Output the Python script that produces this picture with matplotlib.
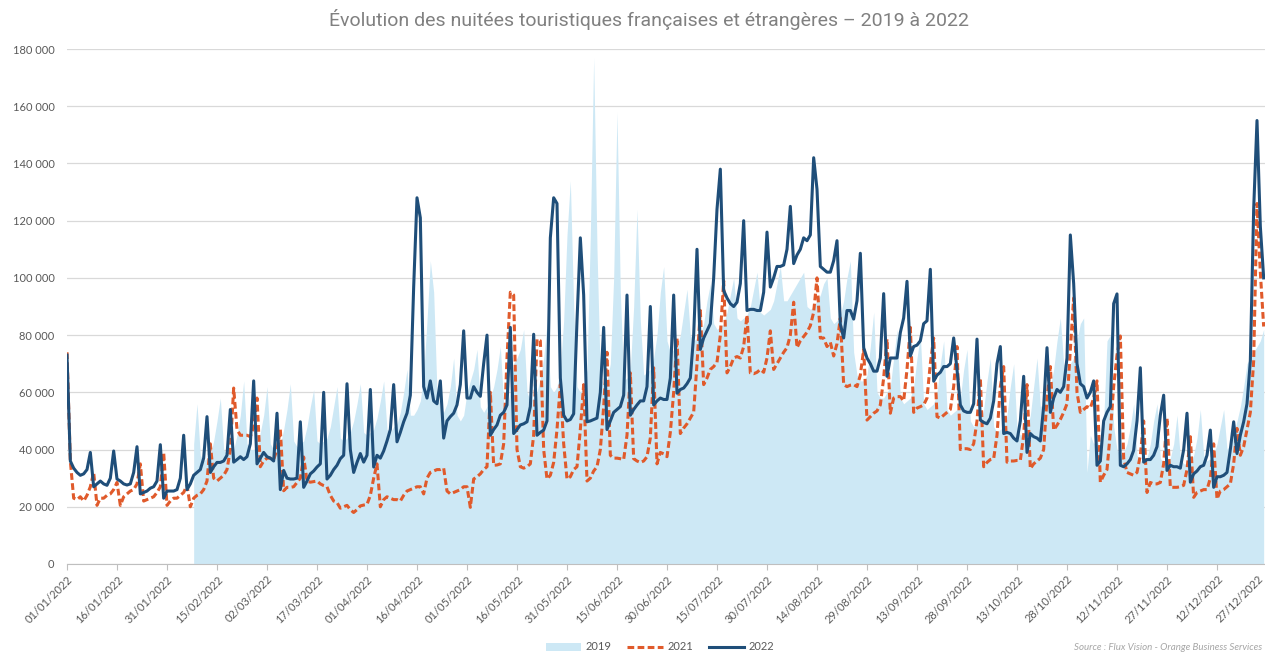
import matplotlib
matplotlib.use("Agg")
import matplotlib.pyplot as plt
import matplotlib.transforms as mtransforms
from matplotlib.patches import Patch
from matplotlib.lines import Line2D
from matplotlib.ticker import FuncFormatter
import numpy as np
import pandas as pd

# nuitées journalières en milliers, jour 0 = 01/01 (une ligne = une semaine)
nuits_2022 = [
    73, 36, 33.5, 32, 31, 31.5, 33,
    39, 27, 28, 29, 28, 27.5, 30,
    39.5, 29.7, 29, 28, 27.6, 28, 32,
    41, 24.5, 25, 25.5, 26.5, 27, 29,
    41.7, 23, 25.5, 25.5, 25.5, 26, 30,
    45, 26, 28, 31, 32, 33, 37,
    51.5, 32, 34, 35.5, 35.5, 36, 38,
    54, 35.6, 36.5, 37.5, 36.5, 37.5, 42,
    64, 35, 37, 39, 37.5, 37, 36,
    52.7, 26, 32.7, 30, 29.7, 29.7, 30,
    49.7, 26.8, 29, 31.5, 32.5, 33.9, 35,
    60, 29.7, 31, 33, 34.5, 36.8, 38,
    63, 40, 32, 35.5, 38.6, 35.6, 38,
    61, 33.9, 38, 37, 39.5, 43, 47,
    62.7, 42.7, 46, 49.7, 52.7, 59, 96.8,
    128, 121, 62, 58, 64, 57, 56,
    64, 44, 50, 51.5, 52.7, 55.6, 62.7,
    81.5, 58, 58, 62, 60, 58.6, 70,
    80, 45, 47, 48.6, 52, 53, 55.6,
    82.7, 45.6, 47, 48.6, 49, 49.7, 55,
    80.3, 45, 46, 46.8, 50, 114, 128,
    126, 65, 52, 50, 50.5, 52.5, 85,
    114, 94, 49.7, 50, 50.5, 51, 60,
    82.7, 47, 50, 53, 54, 55, 59,
    94, 52, 54, 55.6, 57, 57, 62,
    90, 55.6, 57, 58, 57.5, 57.5, 65,
    94, 59.7, 61, 61.5, 63, 65, 80,
    110, 75, 79, 81.5, 84, 100, 124,
    138, 95.6, 93, 91, 90, 91.5, 98,
    120, 88.6, 89, 89, 88.6, 88.6, 95,
    116, 96.8, 100, 104, 104, 104.5, 110,
    125, 105, 108, 110, 114, 113, 115,
    142, 131, 104, 103, 102, 102, 106,
    113, 83.8, 79, 88.6, 88.6, 85.6, 92,
    108.6, 75.6, 72, 70, 67.4, 67.4, 72,
    94.5, 65.6, 72, 72, 72, 80.9, 86,
    98.8, 72.7, 76, 76.5, 78, 84, 85,
    103, 63.9, 66, 67, 69, 69, 70,
    79, 68, 55.6, 53.5, 53, 53, 56,
    78.6, 50.3, 49.5, 49, 51, 57, 70,
    76, 45.6, 46, 45.6, 44, 43, 50,
    65.6, 39, 45.6, 44.5, 44, 43, 55,
    75.6, 53, 58, 61, 60, 62, 72,
    115, 98, 70, 63, 62, 58, 60,
    64, 34.5, 36, 50, 53, 55, 91,
    94.4, 34.5, 34, 35, 36.5, 39.7, 50,
    68.6, 35.6, 36.5, 36.5, 38, 41, 52,
    59, 32.7, 34.5, 34, 34, 33.5, 40,
    52.7, 28.6, 31.5, 32.5, 34, 34.5, 38,
    46.8, 26.8, 30.5, 30.5, 31, 32, 40,
    49.7, 38.6, 45, 49.7, 56, 71, 124,
    155, 118, 100,
]

nuits_2021 = [
    74, 36, 23, 22.5, 23.5, 22, 24,
    27, 32, 20.5, 23, 23, 24, 24.5,
    26, 28.5, 20.5, 23.5, 24.5, 25.5, 26,
    28, 35, 22, 22.5, 23, 23.5, 25,
    27, 39, 20.5, 22, 23, 23, 24,
    25, 27.5, 20, 23, 24, 24.5, 26,
    29, 42, 30, 29, 30, 31, 33,
    40, 61.5, 47, 45, 45, 45, 44.5,
    48, 58, 34, 36, 37, 37, 36.5,
    40, 47, 25.6, 26.8, 26.8, 27, 28.5,
    30, 37.4, 29, 28.6, 28.8, 29, 28,
    27.4, 27, 24, 22, 21.5, 19.5, 20,
    20.5, 19, 18, 19, 20.3, 20.6, 20.8,
    24, 30, 35, 20, 22.5, 23.5, 23,
    22.5, 22.5, 22, 24, 25.5, 26, 26.5,
    27, 27, 24.5, 30, 32, 32.5, 33,
    33, 33.5, 25.5, 24.5, 25, 25.5, 26,
    27, 27, 19.8, 29.7, 30.5, 31.5, 33,
    34, 60, 34.5, 34.6, 35, 42, 72,
    95, 94, 40, 34, 33.5, 34, 35,
    45, 78.6, 78, 40, 29.7, 31, 35.5,
    47, 62.7, 42, 29.7, 30.5, 33, 34,
    47, 62.7, 29, 30, 32.5, 34, 40,
    55, 74, 38, 37, 37, 36.8, 36.5,
    45, 66.8, 36.8, 36, 35.5, 36, 37.5,
    44, 68.6, 35, 39, 38.5, 37.5, 46,
    60, 79, 45.6, 47.5, 49, 51, 53,
    70, 88.6, 62.7, 65, 68, 69, 70.5,
    80, 99, 66.8, 69, 72, 72.5, 72,
    76, 87, 66.8, 66.5, 67, 68, 67,
    72, 81.5, 68, 70, 72, 74, 75.6,
    80, 91.5, 75.6, 78, 79.5, 81, 83.3,
    88, 100, 79, 79, 76, 77.5, 72.7,
    77, 86, 62.7, 62, 62.5, 62.7, 62,
    66, 75, 50.3, 51.5, 52.7, 53.5, 55.6,
    65, 78.6, 52.7, 58, 58.5, 58.5, 57,
    68, 82.7, 53, 54.5, 55, 55.6, 58,
    70, 79, 51.5, 51, 52, 53, 54,
    62, 76, 40, 40.3, 40.3, 40, 42,
    50, 65, 34, 35.5, 36.5, 36.8, 45,
    62, 69, 35.6, 36, 36, 36.2, 36.2,
    45, 62.7, 33.3, 35, 36, 37, 40,
    58, 69, 46.8, 48.5, 50.5, 53, 56,
    75, 93, 60, 53, 54, 55, 54.5,
    58, 64, 28.6, 31, 33, 46, 62,
    73, 79.7, 36.8, 32, 31.5, 31, 32,
    38, 50, 25, 28.5, 28, 28, 28.5,
    35, 51, 26.8, 26.8, 26.8, 27, 27.5,
    33, 44.5, 23.3, 25, 25.5, 26, 26,
    30, 42, 22.7, 25.5, 26, 27, 28,
    35, 47.4, 38, 41, 47, 53, 71,
    126, 102, 83,
]

# 2019 : données à partir du 08/02 (jour 38)
debut_2019 = 38
nuits_2019 = [
    42, 56, 38, 36, 37, 38, 43,
    50, 58, 40, 38, 39, 40, 45,
    52, 64, 42, 40, 40, 41, 46,
    52, 62, 42, 40, 41, 42, 47,
    54, 63, 43, 41, 42, 43, 48,
    55, 61, 43, 42, 43, 44, 48,
    55, 62, 44, 43, 44, 46, 50,
    56, 63, 46, 45, 46, 47, 51,
    57, 64, 47, 46, 48, 49, 53,
    60, 68, 52, 52, 54, 57, 66,
    85, 106, 95, 60, 55, 53, 56,
    62, 72, 52, 50, 52, 60, 64,
    68, 75, 55, 53, 55, 58, 62,
    68, 76, 56, 55, 60, 70, 72,
    75, 82, 60, 57, 58, 60, 65,
    72, 84, 62, 60, 62, 68, 85,
    115, 134, 90, 62, 60, 62, 68,
    115, 177, 110, 65, 63, 64, 70,
    100, 158, 95, 64, 65, 68, 90,
    124, 85, 66, 67, 68, 72, 80,
    95, 104, 78, 74, 75, 76, 80,
    88, 96, 80, 78, 79, 80, 84,
    92, 98, 84, 82, 83, 84, 88,
    94, 100, 86, 85, 86, 87, 90,
    96, 102, 88, 87, 88, 89, 92,
    98, 104, 92, 92, 94, 96, 98,
    100, 102, 90, 89, 90, 92, 94,
    98, 100, 86, 84, 85, 87, 92,
    100, 106, 74, 66, 64, 64, 66,
    76, 88, 60, 58, 58, 60, 62,
    72, 82, 58, 56, 57, 58, 62,
    72, 80, 56, 54, 55, 56, 60,
    70, 78, 54, 52, 53, 54, 58,
    68, 75, 50, 48, 49, 50, 54,
    64, 72, 48, 46, 47, 48, 52,
    62, 70, 47, 45, 46, 47, 52,
    62, 72, 55, 56, 58, 62, 68,
    78, 86, 70, 68, 70, 72, 78,
    84, 86, 32, 45, 42, 44, 38,
    50, 78, 80, 48, 40, 38, 39,
    42, 48, 56, 38, 36, 36, 37,
    42, 50, 56, 37, 35, 36, 37,
    42, 52, 37, 35, 35, 36, 38,
    44, 54, 38, 36, 37, 38, 42,
    48, 54, 40, 42, 45, 50, 55,
    62, 70, 72, 74, 76, 78, 82,
]

titre = "Évolution des nuitées touristiques françaises et étrangères – 2019 à 2022"
source = "Source : Flux Vision - Orange Business Services"

y22 = np.array(nuits_2022) * 1000
y21 = np.array(nuits_2021) * 1000
y19 = np.array(nuits_2019) * 1000
x22 = np.arange(len(y22))
x21 = np.arange(len(y21))
x19 = np.arange(debut_2019, debut_2019 + len(y19))

c19 = '#cde8f5'
c21 = '#e05a2b'
c22 = '#1f4e79'
gris = '#595959'

fig = plt.figure(figsize=(12.65, 6.55), dpi=100)
# axe un peu plus large que la figure : l'image d'origine est coupée à droite
ax = fig.add_axes([67 / 1265, 91 / 655, 1200 / 1265, 515 / 655])

ax.fill_between(x19, 0, y19, color=c19, lw=0, zorder=1)
ax.plot(x21, y21, color=c21, lw=2.2, ls=(0, (2.2, 1.1)), zorder=3)
ax.plot(x22, y22, color=c22, lw=2.2, zorder=4)

ax.set_xlim(0, 360)
ax.set_ylim(0, 180000)
ax.set_yticks(np.arange(0, 180001, 20000))
ax.yaxis.set_major_formatter(FuncFormatter(lambda v, p: f"{int(v):,}".replace(",", " ")))
ax.grid(axis='y', color='#d9d9d9', lw=0.9, zorder=0)
ax.set_axisbelow(True)

ticks = np.arange(0, 361, 15)
labels = pd.date_range('2022-01-01', periods=len(ticks), freq='15D').strftime('%d/%m/%Y')
ax.set_xticks(ticks)
ax.set_xticklabels(labels, rotation=45, ha='right', rotation_mode='anchor')

for s in ['top', 'right', 'left']:
    ax.spines[s].set_visible(False)
ax.spines['bottom'].set_color('#bfbfbf')
ax.spines['bottom'].set_zorder(5)
ax.tick_params(axis='y', length=0, pad=9, labelsize=8, labelcolor=gris)
ax.tick_params(axis='x', length=4, color='#bfbfbf', pad=3, labelsize=8, labelcolor=gris)
for t in ax.get_xticklabels() + ax.get_yticklabels():
    t.set_fontfamily('Lato')

# le dernier libellé touche le bord : léger décalage vers la gauche
last = ax.get_xticklabels()[-1]
last.set_transform(last.get_transform() + mtransforms.ScaledTranslation(-9 / 100, 0, fig.dpi_scale_trans))

fig.text(0.513, 1 - 20 / 655, titre, ha='center', va='center', fontsize=14,
         color='#808080', family='Roboto')

handles = [Patch(facecolor=c19, edgecolor='none'),
           Line2D([], [], color=c21, lw=2.2, ls=(0, (2.2, 1.1))),
           Line2D([], [], color=c22, lw=2.2)]
fig.legend(handles, ['2019', '2021', '2022'], loc='center', ncol=3,
           bbox_to_anchor=(660 / 1265, 1 - 647 / 655), frameon=False,
           prop={'family': 'Lato', 'size': 8}, labelcolor=gris,
           handlelength=3.2, columnspacing=1.4, handletextpad=0.4)

fig.text(1262 / 1265, 1 - 647 / 655, source, ha='right', va='center', fontsize=7,
         color='#a6a6a6', style='italic', family='Lato')

fig.savefig('out.png', dpi=100)
